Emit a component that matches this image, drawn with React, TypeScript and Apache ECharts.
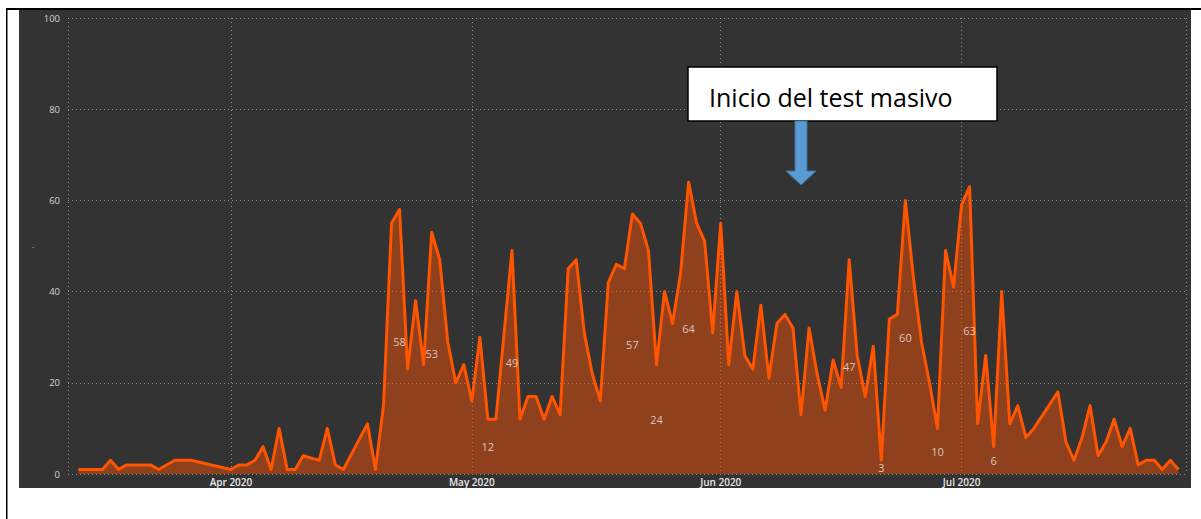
import React, { useEffect, useRef } from "react";
import * as echarts from "echarts";

// Daily counts, grouped by month (day of month -> value)
const marchDays = [13, 14, 15, 16, 17, 18, 19, 20, 21, 22, 23, 25, 27];
const marchValues = [1, 1, 1, 1, 3, 1, 2, 2, 2, 2, 1, 3, 3];
const aprilDays = [1, 2, 3, 4, 5, 6, 7, 8, 9, 10, 12, 13, 14, 15, 18, 19, 20, 21, 22, 23, 24, 25, 26, 27, 28, 29, 30];
const aprilValues = [1, 2, 2, 3, 6, 1, 10, 1, 1, 4, 3, 10, 2, 1, 11, 1, 15, 55, 58, 23, 38, 24, 53, 47, 29, 20, 24];
const mayDays = [1, 2, 3, 4, 6, 7, 8, 9, 10, 11, 12, 13, 14, 15, 16, 17, 18, 19, 20, 21, 22, 23, 24, 25, 26, 27, 28, 29, 30, 31];
const mayValues = [16, 30, 12, 12, 49, 12, 17, 17, 12, 17, 13, 45, 47, 31, 22, 16, 42, 46, 45, 57, 55, 49, 24, 40, 33, 44, 64, 55, 51, 31];
const juneDays = [1, 2, 3, 4, 5, 6, 7, 8, 9, 10, 11, 12, 13, 14, 15, 16, 17, 18, 19, 20, 21, 22, 23, 24, 25, 26, 27, 28, 29, 30];
const juneValues = [55, 24, 40, 26, 23, 37, 21, 33, 35, 32, 13, 32, 22, 14, 25, 19, 47, 26, 17, 28, 3, 34, 35, 60, 43, 29, 20, 10, 49, 41];
const julyDays = [1, 2, 3, 4, 5, 6, 7, 8, 9, 10, 13, 14, 15, 16, 17, 18, 19, 20, 21, 22, 23, 24, 25, 26, 27, 28];
const julyValues = [59, 63, 11, 26, 6, 40, 11, 15, 8, 10, 18, 7, 3, 8, 15, 4, 7, 12, 6, 10, 2, 3, 3, 1, 3, 1];

// Points that carry a data label: [month index (0 = Jan), day]
const labelledPoints: [number, number][] = [
  [3, 22], [3, 26], [4, 3], [4, 6], [4, 21], [4, 24], [4, 28],
  [5, 17], [5, 21], [5, 24], [5, 28], [6, 2], [6, 5],
];

const yTicks = [0, 20, 40, 60, 80, 100];
const annotationText = "Inicio del test masivo";

const DAY = 24 * 3600 * 1000;

export default function App() {
  const ref = useRef<HTMLDivElement>(null);

  useEffect(() => {
    if (!ref.current) return;
    const chart = echarts.init(ref.current, undefined, { renderer: "svg" });

    const months: [number, number[], number[]][] = [
      [2, marchDays, marchValues],
      [3, aprilDays, aprilValues],
      [4, mayDays, mayValues],
      [5, juneDays, juneValues],
      [6, julyDays, julyValues],
    ];
    const lineData: [number, number][] = [];
    const lookup: Record<string, number> = {};
    months.forEach(([m, days, vals]) => {
      days.forEach((d, i) => {
        lineData.push([new Date(2020, m, d).getTime(), vals[i]]);
        lookup[m + "-" + d] = vals[i];
      });
    });
    const labelData = labelledPoints.map(([m, d]) => {
      const v = lookup[m + "-" + d];
      return [new Date(2020, m, d).getTime(), v / 2, v];
    });

    const start = new Date(2020, 2, 13).getTime();
    const xMin = start - 1.295 * DAY;
    const xMax = start + 137.95 * DAY;

    const gridLine = { color: "rgba(175,175,175,0.75)", width: 1, type: [1, 3] as any };

    chart.setOption({
      animation: false,
      backgroundColor: "#ffffff",
      grid: { left: 68, right: 15, top: 18, bottom: 45, containLabel: false, outerBoundsMode: "none" } as any,
      xAxis: {
        type: "time",
        min: xMin,
        max: xMax,
        minInterval: 28 * DAY,
        maxInterval: 31 * DAY,
        axisLine: { show: false },
        axisTick: { show: false },
        splitLine: { show: true, lineStyle: gridLine },
        axisLabel: {
          formatter: "{MMM} {yyyy}",
          color: "#e8e8e8",
          fontFamily: "Open Sans",
          fontSize: 10,
          fontWeight: 600,
          margin: 3,
          showMinLabel: false,
          showMaxLabel: false,
        },
      },
      yAxis: {
        type: "value",
        min: yTicks[0],
        max: yTicks[yTicks.length - 1],
        interval: 20,
        axisLine: { show: false },
        axisTick: { show: false },
        splitLine: { show: true, lineStyle: gridLine },
        axisLabel: {
          color: "#d4d4d4",
          fontFamily: "Open Sans",
          fontSize: 9.5,
          margin: 8,
        },
      },
      graphic: [
        { type: "rect", z: -10, shape: { x: 19, y: 10, width: 1172, height: 478 }, style: { fill: "#333333" }, silent: true },
        { type: "rect", z: 10, shape: { x: 6, y: 8, width: 1195, height: 2 }, style: { fill: "#000000" }, silent: true },
        { type: "rect", z: 10, shape: { x: 6, y: 8, width: 1.5, height: 511 }, style: { fill: "#000000" }, silent: true },
        { type: "text", z: 10, x: 33, y: 246, style: { text: "-", fill: "#bbbbbb", font: "7px Open Sans", textAlign: "center", textVerticalAlign: "middle" }, silent: true },
        { type: "rect", z: 20, shape: { x: 688, y: 67, width: 309, height: 54 }, style: { fill: "#ffffff", stroke: "#000000", lineWidth: 1.5 }, silent: true },
        { type: "text", z: 21, x: 709, y: 97, style: { text: annotationText, fill: "#000000", font: "25px Open Sans", textAlign: "left", textVerticalAlign: "middle" }, silent: true },
        {
          type: "polygon", z: 20,
          shape: { points: [[795, 121], [807, 121], [807, 171], [816, 171], [801, 185], [786, 171], [795, 171]] },
          style: { fill: "#5B9BD5", stroke: "#41719C", lineWidth: 1 },
          silent: true,
        },
      ],
      series: [
        {
          type: "line",
          data: lineData,
          showSymbol: false,
          symbol: "none",
          lineStyle: { color: "#FF5500", width: 3, join: "round" },
          areaStyle: { color: "rgba(255,80,0,0.45)", opacity: 1 },
          z: 2,
          silent: true,
        },
        {
          type: "scatter",
          data: labelData,
          symbolSize: 0,
          z: 3,
          silent: true,
          label: {
            show: true,
            position: "inside",
            formatter: (p: any) => String(p.value[2]),
            color: "rgba(255,255,255,0.88)",
            fontFamily: "Open Sans",
            fontSize: 11,
          },
        },
      ],
    });

    return () => chart.dispose();
  }, []);

  return (
    <div
      ref={ref}
      style={{ position: "fixed", left: 0, top: 0, width: 1201, height: 519 }}
    />
  );
}
